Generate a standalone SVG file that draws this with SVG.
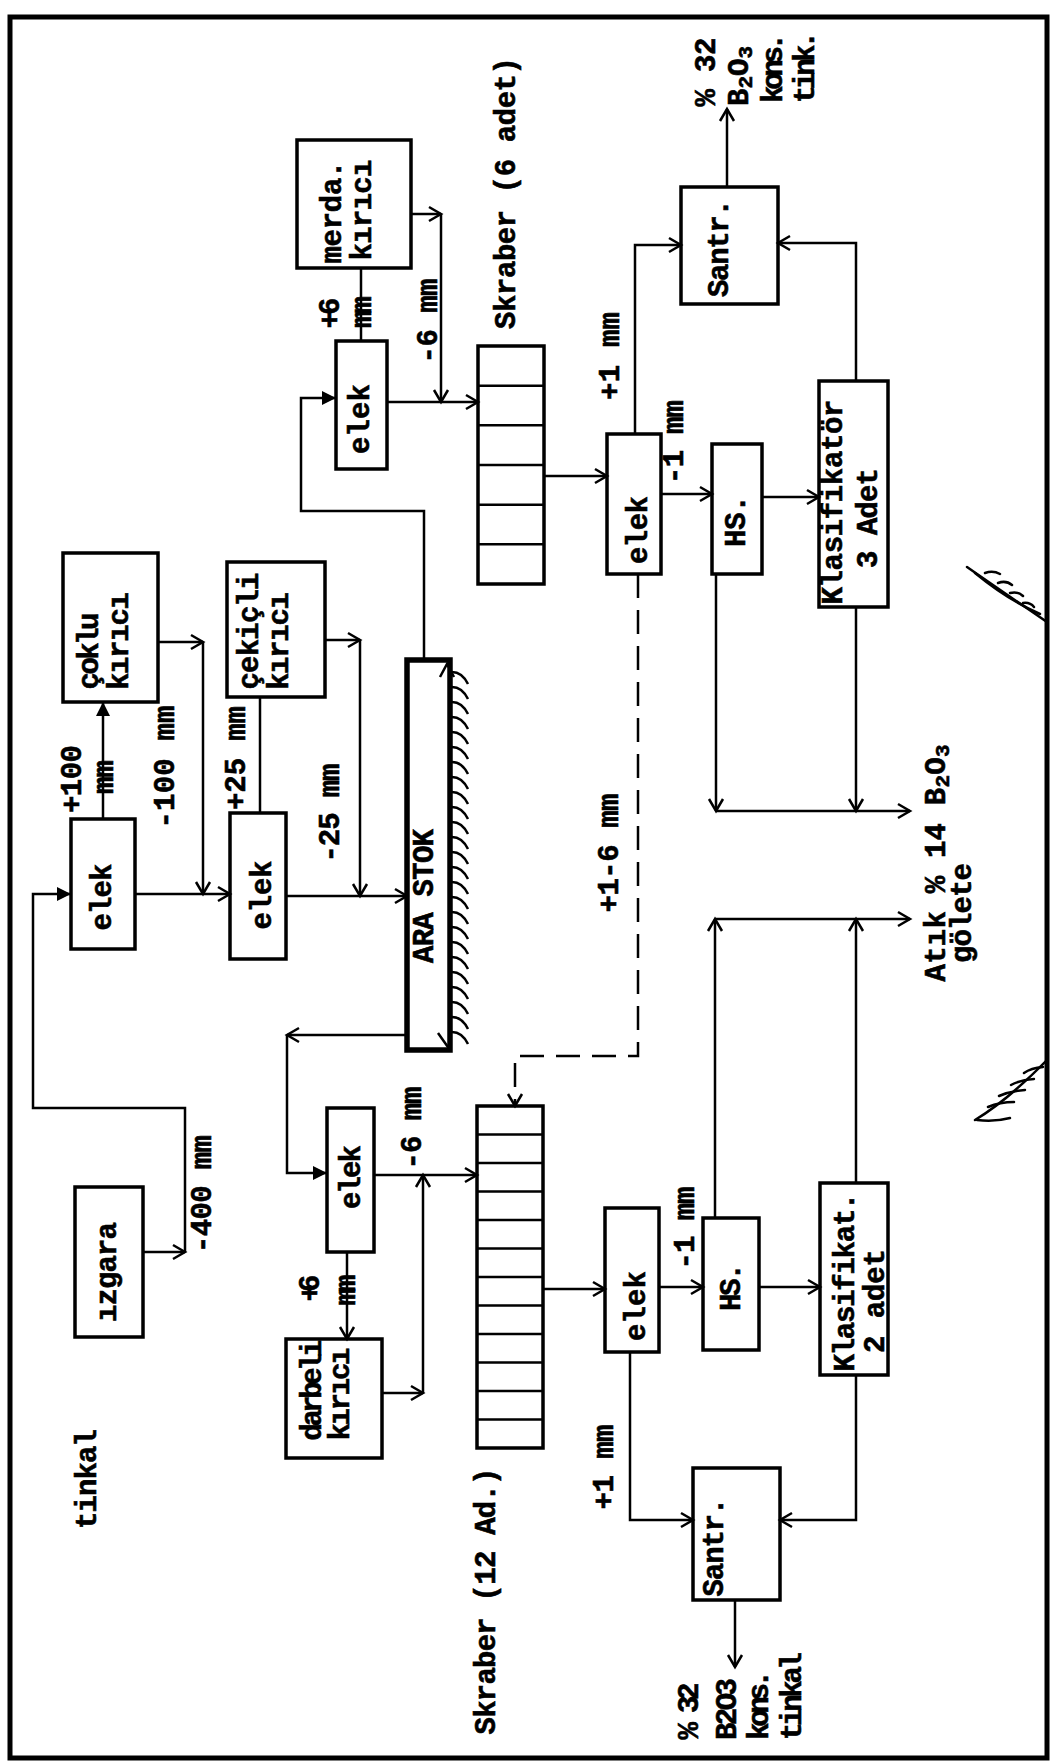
<svg xmlns="http://www.w3.org/2000/svg" width="1052" height="1763" viewBox="0 0 1052 1763">
<defs>
<style>
.box{fill:none;stroke:#000;stroke-width:3.5}
.cell{fill:none;stroke:#000;stroke-width:2.5}
.ln{fill:none;stroke:#000;stroke-width:2.5}
.ar{marker-end:url(#a)}
.af{marker-end:url(#f)}
.dash{stroke-dasharray:24 12}
.t{font-family:"Liberation Mono","DejaVu Sans Mono",monospace;font-weight:bold;font-size:29px;fill:#000;stroke:#000;stroke-width:0.6;text-anchor:middle;dominant-baseline:central}
.deco{fill:none;stroke:#000;stroke-width:2.5;stroke-linecap:round}
</style>
<marker id="a" markerUnits="userSpaceOnUse" markerWidth="16" markerHeight="16" refX="13" refY="7" orient="auto" overflow="visible"><path d="M1,0 L13,7 L1,14" fill="none" stroke="#000" stroke-width="2.5"/></marker>
<marker id="f" markerUnits="userSpaceOnUse" markerWidth="16" markerHeight="16" refX="14" refY="7" orient="auto" overflow="visible"><path d="M0,0 L14,7 L0,14 z" fill="#000"/></marker>
</defs>
<rect width="1052" height="1763" fill="#fff"/>
<rect x="10" y="17" width="1037" height="1741" fill="none" stroke="#000" stroke-width="5"/>

<g id="decorations">
<path class="deco" d="M967,567 Q1000,590 1047,622"/>
<path class="deco" d="M975,573 Q1008,600 1040,614"/>
<path class="deco" d="M985,573 q8,-3 15,1 M998,583 q8,-3 14,2 M1010,593 q8,-2 13,3 M1023,603 q7,-1 11,4"/>
<path class="deco" d="M975,1120 Q1008,1100 1047,1060"/>
<path class="deco" d="M977,1120 Q995,1122 1010,1118"/>
<path class="deco" d="M988,1107 q12,-5 26,-5 M999,1096 q11,-5 26,-6 M1011,1085 q9,-5 23,-6 M1024,1073 q7,-5 19,-6"/>
</g>

<g id="connectors">
<path class="ln" d="M361,268 V341"/>
<path class="ln ar" d="M411,214 H441"/>
<path class="ln ar" d="M441,214 V402"/>
<path class="ln ar" d="M387,402 H478"/>
<path class="ln af" d="M424,660 V511 H301 V398 H336"/>
<path class="ln ar" d="M544,476 H607"/>
<path class="ln ar" d="M635,434 V245 H681"/>
<path class="ln ar" d="M856,381 V243 H778"/>
<path class="ln ar" d="M727,187 V109"/>
<path class="ln ar" d="M661,494 H712"/>
<path class="ln ar" d="M762,497 H819"/>
<path class="ln ar" d="M716,574 V811"/>
<path class="ln ar" d="M716,811 H910"/>
<path class="ln ar" d="M856,607 V811"/>
<path class="ln ar" d="M715,1218 V919"/>
<path class="ln ar" d="M715,919 H910"/>
<path class="ln ar" d="M856,1183 V919"/>
<path class="ln ar dash" d="M638,574 V1056 H515 V1106"/>
<path class="ln af" d="M103,819 V702"/>
<path class="ln ar" d="M158,642 H203"/>
<path class="ln ar" d="M203,642 V894"/>
<path class="ln ar" d="M135,894 H230"/>
<path class="ln" d="M260,813 V697"/>
<path class="ln ar" d="M325,640 H360"/>
<path class="ln ar" d="M360,640 V896"/>
<path class="ln ar" d="M286,896 H407"/>
<path class="ln ar" d="M143,1252 H185"/>
<path class="ln af" d="M185,1252 V1108 H33 V894 H71"/>
<path class="ln ar" d="M407,1035 H287"/>
<path class="ln af" d="M287,1035 V1173 H327"/>
<path class="ln ar" d="M374,1175 H477"/>
<path class="ln ar" d="M347,1252 V1339"/>
<path class="ln ar" d="M382,1393 H423"/>
<path class="ln ar" d="M423,1393 V1175"/>
<path class="ln ar" d="M543,1289 H605"/>
<path class="ln ar" d="M659,1287 H703"/>
<path class="ln ar" d="M759,1287 H820"/>
<path class="ln ar" d="M630,1352 V1520 H693"/>
<path class="ln ar" d="M856,1375 V1520 H780"/>
<path class="ln ar" d="M735,1600 V1667"/>
</g>

<g id="merda-kirici">
<rect class="box" x="297" y="140" width="114" height="128"/>
<text class="t" transform="translate(333,212) rotate(-90)" textLength="103">merda.</text>
<text class="t" transform="translate(363,210) rotate(-90)" textLength="101">kırıcı</text>
</g>
<g id="elek-top">
<rect class="box" x="336" y="341" width="51" height="128"/>
<text class="t" transform="translate(361,419) rotate(-90)" textLength="70">elek</text>
</g>
<g id="skraber6">
<rect class="box" x="478" y="346" width="66" height="238"/>
<path class="cell" d="M478,385.7 H544 M478,425.3 H544 M478,465 H544 M478,504.7 H544 M478,544.3 H544"/>
</g>
<g id="santr-top">
<rect class="box" x="681" y="187" width="97" height="117"/>
<text class="t" transform="translate(720,248) rotate(-90)" textLength="98">Santr.</text>
</g>
<g id="elek-mid">
<rect class="box" x="607" y="434" width="54" height="140"/>
<text class="t" transform="translate(639,530) rotate(-90)" textLength="68">elek</text>
</g>
<g id="hs-top">
<rect class="box" x="712" y="444" width="50" height="130"/>
<text class="t" transform="translate(737,521) rotate(-90)" textLength="52">HS.</text>
</g>
<g id="klasifikator-3">
<rect class="box" x="819" y="381" width="69" height="226"/>
<text class="t" transform="translate(834,502) rotate(-90)" textLength="205">Klasifikatör</text>
<text class="t" transform="translate(869,518) rotate(-90)" textLength="100">3 Adet</text>
</g>
<g id="coklu-kirici">
<rect class="box" x="63" y="553" width="95" height="149"/>
<text class="t" transform="translate(90,651) rotate(-90)" textLength="77">çoklu</text>
<text class="t" transform="translate(120,641) rotate(-90)" textLength="98">kırıcı</text>
</g>
<g id="cekicli-kirici">
<rect class="box" x="227" y="562" width="98" height="135"/>
<text class="t" transform="translate(250,631) rotate(-90)" textLength="117">çekiçli</text>
<text class="t" transform="translate(280,641) rotate(-90)" textLength="98">kırıcı</text>
</g>
<g id="elek-1">
<rect class="box" x="71" y="819" width="64" height="130"/>
<text class="t" transform="translate(103,897) rotate(-90)" textLength="67">elek</text>
</g>
<g id="elek-2">
<rect class="box" x="230" y="813" width="56" height="146"/>
<text class="t" transform="translate(263,895) rotate(-90)" textLength="69">elek</text>
</g>
<g id="ara-stok">
<rect x="407" y="660" width="43" height="390" fill="none" stroke="#000" stroke-width="5.5"/>
<text class="t" transform="translate(425,896) rotate(-90)" textLength="134">ARA STOK</text>
<path class="ln" d="M440,677 L447,664 L454,677 M438,1033 L450,1050"/>
<path class="ln" d="M452,672 q10,0 16,12 M452,687 q10,0 16,12 M452,702 q10,0 16,12 M452,717 q10,0 16,12 M452,732 q10,0 16,12 M452,747 q10,0 16,12 M452,762 q10,0 16,12 M452,777 q10,0 16,12 M452,792 q10,0 16,12 M452,807 q10,0 16,12 M452,822 q10,0 16,12 M452,837 q10,0 16,12 M452,852 q10,0 16,12 M452,867 q10,0 16,12 M452,882 q10,0 16,12 M452,897 q10,0 16,12 M452,912 q10,0 16,12 M452,927 q10,0 16,12 M452,942 q10,0 16,12 M452,957 q10,0 16,12 M452,972 q10,0 16,12 M452,987 q10,0 16,12 M452,1002 q10,0 16,12 M452,1017 q10,0 16,12 M452,1032 q10,0 16,12"/>
</g>
<g id="izgara">
<rect class="box" x="75" y="1187" width="68" height="150"/>
<text class="t" transform="translate(108,1272) rotate(-90)" textLength="100">ızgara</text>
</g>
<g id="elek-3">
<rect class="box" x="327" y="1108" width="47" height="144"/>
<text class="t" transform="translate(352,1177) rotate(-90)" textLength="64">elek</text>
</g>
<g id="darbeli-kirici">
<rect class="box" x="286" y="1339" width="96" height="119"/>
<text class="t" transform="translate(313,1390) rotate(-90)" textLength="101">darbeli</text>
<text class="t" transform="translate(341,1394) rotate(-90)" textLength="93">kırıcı</text>
</g>
<g id="skraber12">
<rect class="box" x="477" y="1106" width="66" height="342"/>
<path class="cell" d="M477,1134.5 H543 M477,1163 H543 M477,1191.5 H543 M477,1220 H543 M477,1248.5 H543 M477,1277 H543 M477,1305.5 H543 M477,1334 H543 M477,1362.5 H543 M477,1391 H543 M477,1419.5 H543"/>
</g>
<g id="elek-4">
<rect class="box" x="605" y="1208" width="54" height="144"/>
<text class="t" transform="translate(637,1306) rotate(-90)" textLength="70">elek</text>
</g>
<g id="hs-bottom">
<rect class="box" x="703" y="1218" width="56" height="132"/>
<text class="t" transform="translate(732,1287) rotate(-90)" textLength="48">HS.</text>
</g>
<g id="klasifikat-2">
<rect class="box" x="820" y="1183" width="68" height="192"/>
<text class="t" transform="translate(846,1282) rotate(-90)" textLength="179">Klasifikat.</text>
<text class="t" transform="translate(876,1301) rotate(-90)" textLength="104">2 adet</text>
</g>
<g id="santr-bottom">
<rect class="box" x="693" y="1468" width="87" height="132"/>
<text class="t" transform="translate(715,1547) rotate(-90)" textLength="99">Santr.</text>
</g>

<g id="labels">
<text class="t" transform="translate(507,193) rotate(-90)" textLength="272">Skraber (6 adet)</text>
<text class="t" transform="translate(331,313) rotate(-90)" textLength="31">+6</text>
<text class="t" transform="translate(363,312) rotate(-90)" textLength="32">mm</text>
<text class="t" transform="translate(429,321) rotate(-90)" textLength="85">-6 mm</text>
<text class="t" transform="translate(707,72) rotate(-90)" textLength="69">% 32</text>
<text class="t" transform="translate(740,76) rotate(-90)">B<tspan dy="6" font-size="21">2</tspan><tspan dy="-6">O</tspan><tspan dy="6" font-size="21">3</tspan></text>
<text class="t" transform="translate(774,68) rotate(-90)" textLength="70">kons.</text>
<text class="t" transform="translate(806,67) rotate(-90)" textLength="72">tink.</text>
<text class="t" transform="translate(611,356) rotate(-90)" textLength="88">+1 mm</text>
<text class="t" transform="translate(675,442) rotate(-90)" textLength="84">-1 mm</text>
<text class="t" transform="translate(73,779) rotate(-90)" textLength="68">+100</text>
<text class="t" transform="translate(105,777) rotate(-90)" textLength="34">mm</text>
<text class="t" transform="translate(166,767) rotate(-90)" textLength="123">-100 mm</text>
<text class="t" transform="translate(237,758) rotate(-90)" textLength="104">+25 mm</text>
<text class="t" transform="translate(331,813) rotate(-90)" textLength="99">-25 mm</text>
<text class="t" transform="translate(610,853) rotate(-90)" textLength="119">+1-6 mm</text>
<text class="t" transform="translate(937,863) rotate(-90)" textLength="237">Atık % 14 B<tspan dy="6" font-size="21">2</tspan><tspan dy="-6">O</tspan><tspan dy="6" font-size="21">3</tspan></text>
<text class="t" transform="translate(963,913) rotate(-90)" textLength="100">gölete</text>
<text class="t" transform="translate(203,1194) rotate(-90)" textLength="118">-400 mm</text>
<text class="t" transform="translate(413,1128) rotate(-90)" textLength="83">-6 mm</text>
<text class="t" transform="translate(311,1288) rotate(-90)" textLength="27">+6</text>
<text class="t" transform="translate(347,1290) rotate(-90)" textLength="31">mm</text>
<text class="t" transform="translate(88,1479) rotate(-90)" textLength="100">tinkal</text>
<text class="t" transform="translate(686,1228) rotate(-90)" textLength="83">-1 mm</text>
<text class="t" transform="translate(605,1467) rotate(-90)" textLength="85">+1 mm</text>
<text class="t" transform="translate(487,1601) rotate(-90)" textLength="267">Skraber (12 Ad.)</text>
<text class="t" transform="translate(690,1711) rotate(-90)" textLength="57">% 32</text>
<text class="t" transform="translate(728,1709) rotate(-90)" textLength="62">B2O3</text>
<text class="t" transform="translate(760,1705) rotate(-90)" textLength="70">kons.</text>
<text class="t" transform="translate(793,1696) rotate(-90)" textLength="88">tinkal</text>
</g>
</svg>
